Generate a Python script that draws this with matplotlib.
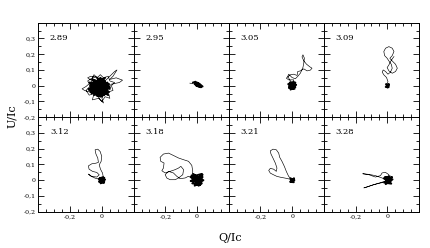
import matplotlib
matplotlib.use("Agg")
import matplotlib.pyplot as plt
from matplotlib.ticker import MultipleLocator

plt.rcParams['font.family'] = ['DejaVu Serif']

labels = ["2.89", "2.95", "3.05", "3.09", "3.12", "3.18", "3.21", "3.28"]

# excursion traces (Q/Ic, U/Ic)
q_289 = [-0.02, 0.03, 0.06, 0.08, 0.095, 0.07, 0.05, 0.09, 0.13, 0.11, 0.06, 0.02, 0.0, 0.01, -0.01,
         -0.04, -0.08, -0.11, -0.125, -0.10, -0.06, -0.09, -0.07, -0.03,
         -0.06, -0.09, -0.07, -0.10, -0.08, -0.05, -0.06, -0.02, 0.0, 0.02, 0.05, 0.04, 0.07, 0.06,
         0.08, 0.05, 0.04, 0.01, -0.01, -0.03, -0.05, -0.06]
u_289 = [0.0, 0.04, 0.07, 0.09, 0.10, 0.06, 0.04, 0.05, 0.035, 0.02, 0.01, -0.03, -0.08, -0.11, -0.09,
         -0.05, -0.04, -0.03, -0.02, -0.005, 0.03, 0.05, 0.06, 0.055,
         0.05, 0.03, 0.0, -0.03, -0.06, -0.05, -0.09, -0.08, -0.10, -0.07, -0.08, -0.04, -0.03, 0.0,
         0.02, 0.03, 0.06, 0.05, 0.07, 0.05, 0.07, 0.05]
q_295 = [-0.045, -0.03, -0.02]
u_295 = [0.016, 0.014, 0.018]
q_305 = [0.003, 0.010, -0.022, -0.037, -0.012, 0.010, 0.031, 0.035, 0.052, 0.073, 0.094, 0.115, 0.125,
         0.111, 0.090, 0.073, 0.062, 0.068, 0.077, 0.073, 0.068, 0.052, 0.035, 0.020, -0.001, -0.022,
         -0.028, -0.012, 0.005]
u_305 = [0.006, 0.037, 0.037, 0.048, 0.069, 0.073, 0.065, 0.090, 0.094, 0.107, 0.094, 0.099, 0.111,
         0.120, 0.137, 0.158, 0.183, 0.196, 0.175, 0.143, 0.116, 0.080, 0.059, 0.044, 0.052, 0.073,
         0.059, 0.031, 0.010]
q_309 = [-0.001, 0.004, -0.005, -0.022, -0.032, -0.026, -0.011, 0.004, 0.020, 0.031, 0.025, 0.010,
         -0.001, -0.017, -0.022, -0.011, 0.010, 0.031, 0.042, 0.031, 0.016, 0.031, 0.052, 0.063, 0.052,
         0.031, 0.010, -0.001, 0.010, 0.020, 0.031, 0.042]
u_309 = [0.006, 0.027, 0.052, 0.069, 0.086, 0.100, 0.090, 0.073, 0.086, 0.111, 0.136, 0.157, 0.174,
         0.191, 0.217, 0.238, 0.248, 0.238, 0.217, 0.191, 0.174, 0.157, 0.136, 0.111, 0.090, 0.079,
         0.094, 0.115, 0.132, 0.153, 0.170, 0.185]
q_312 = [-0.005, -0.017, -0.043, -0.074, -0.085, -0.064, -0.032, -0.017, -0.032, -0.059, -0.081, -0.085,
         -0.064, -0.038, -0.022, -0.026, -0.038, -0.043, -0.026, -0.011, -0.001, -0.005, -0.017, -0.009,
         0.004, 0.010, -0.001]
u_312 = [-0.008, 0.007, 0.013, 0.028, 0.039, 0.024, 0.020, 0.034, 0.049, 0.056, 0.070, 0.091, 0.104,
         0.108, 0.113, 0.140, 0.167, 0.193, 0.197, 0.182, 0.151, 0.119, 0.098, 0.070, 0.045, 0.013, -0.008]
q_318 = [-0.033, -0.027, -0.033, -0.054, -0.085, -0.117, -0.149, -0.180, -0.212, -0.233, -0.229, -0.208,
         -0.212, -0.222, -0.201, -0.170, -0.138, -0.117, -0.102, -0.085, -0.090, -0.117, -0.138, -0.170,
         -0.191, -0.201, -0.180, -0.149, -0.128, -0.107, -0.075, -0.054, -0.033]
u_318 = [0.025, 0.056, 0.094, 0.120, 0.130, 0.141, 0.157, 0.172, 0.166, 0.145, 0.120, 0.109, 0.077,
         0.060, 0.046, 0.056, 0.067, 0.077, 0.088, 0.067, 0.035, 0.014, 0.003, 0.003, 0.014, 0.035,
         0.056, 0.046, 0.025, 0.010, 0.014, 0.025, 0.014]
q_321 = [0.003, -0.016, -0.043, -0.070, -0.096, -0.117, -0.138, -0.148, -0.138, -0.117, -0.100, -0.096,
         -0.106, -0.121, -0.134, -0.138, -0.121, -0.100, -0.085, -0.079, -0.064, -0.049, -0.037, -0.022,
         -0.001]
u_321 = [-0.001, 0.007, 0.013, 0.018, 0.024, 0.034, 0.045, 0.062, 0.075, 0.070, 0.056, 0.077, 0.108,
         0.140, 0.167, 0.186, 0.197, 0.193, 0.172, 0.146, 0.119, 0.087, 0.056, 0.024, 0.003]
q_328 = [0.003, -0.033, -0.075, -0.117, -0.155, -0.117, -0.075, -0.043, -0.033, -0.012, 0.010, -0.001,
         -0.043, -0.085, -0.127, -0.148, -0.106, -0.064, -0.022, 0.003]
u_328 = [-0.001, 0.014, 0.029, 0.037, 0.041, 0.035, 0.020, 0.029, 0.046, 0.050, 0.035, -0.007, -0.018,
         -0.028, -0.043, -0.049, -0.035, -0.022, -0.009, -0.001]

# dense cores near the origin
cq_289 = [-0.02, 0.03, -0.07, 0.02, -0.05, 0.04, -0.08, 0.0, 0.03, -0.06, 0.045, -0.03, -0.075, 0.01,
          -0.04, 0.05, -0.01, -0.065, 0.035, -0.085, 0.0, -0.04, 0.04, -0.055, 0.02, -0.07, 0.03, -0.02,
          0.045, -0.08, -0.01, 0.02, -0.06, 0.0, -0.03, 0.05, -0.07, 0.015, -0.045, -0.02]
cu_289 = [0.04, -0.05, -0.02, 0.03, -0.06, 0.01, 0.02, -0.07, -0.02, 0.04, -0.04, -0.065, 0.0, 0.045,
          -0.04, -0.01, 0.05, -0.05, 0.02, -0.02, -0.055, 0.03, -0.06, 0.0, 0.05, -0.04, -0.03, 0.03,
          0.01, -0.03, -0.07, 0.0, 0.04, -0.03, 0.05, -0.02, -0.01, -0.06, 0.035, -0.01]
cq_295 = [-0.025, -0.01, 0.01, -0.015, 0.02, 0.0, 0.025, -0.005, 0.015, 0.035, 0.01, -0.01, 0.02]
cu_295 = [0.02, 0.025, 0.0, 0.01, 0.005, 0.02, -0.01, 0.0, -0.005, -0.005, 0.015, 0.015, 0.0]
cq_305 = [0.0, 0.02, -0.02, 0.015, -0.025, 0.01, -0.01, 0.025, -0.015, 0.02, -0.02, 0.005, 0.02, -0.01, 0.0]
cu_305 = [0.0, 0.02, -0.015, -0.02, 0.01, 0.025, -0.025, 0.005, 0.02, -0.01, -0.005, -0.02, 0.01, 0.02, 0.0]
cq_309 = [0.0, 0.01, -0.01, 0.008, -0.008, 0.01, 0.0]
cu_309 = [0.0, 0.01, -0.008, -0.01, 0.01, 0.0, -0.01]
cq_312 = [0.0, 0.015, -0.018, 0.012, -0.02, 0.008, -0.008, 0.02, -0.012, 0.015, -0.015, 0.0]
cu_312 = [0.0, 0.015, -0.01, -0.018, 0.008, 0.02, -0.02, 0.004, 0.015, -0.01, -0.004, 0.0]
cq_318 = [0.0, 0.035, -0.03, 0.02, -0.04, 0.03, -0.015, 0.04, -0.035, 0.01, 0.03, -0.025, 0.02, -0.04,
          0.035, -0.01, 0.025, -0.03, 0.0]
cu_318 = [0.005, 0.035, -0.02, -0.03, 0.02, 0.04, -0.035, 0.0, 0.03, -0.035, -0.02, 0.04, 0.01, -0.005,
          0.02, -0.03, -0.01, 0.02, 0.005]
cq_321 = [0.0, 0.012, -0.013, 0.01, -0.012, 0.014, -0.005, 0.0]
cu_321 = [0.0, 0.012, -0.01, -0.013, 0.012, 0.0, -0.012, 0.0]
cq_328 = [0.005, 0.03, -0.02, 0.025, -0.022, 0.015, -0.01, 0.033, -0.015, 0.02, 0.0]
cu_328 = [0.0, 0.02, -0.015, -0.022, 0.012, 0.025, -0.025, 0.005, 0.02, -0.01, 0.0]

traces = [(q_289, u_289), (q_295, u_295), (q_305, u_305), (q_309, u_309),
          (q_312, u_312), (q_318, u_318), (q_321, u_321), (q_328, u_328)]
cores = [(cq_289, cu_289), (cq_295, cu_295), (cq_305, cu_305), (cq_309, cu_309),
         (cq_312, cu_312), (cq_318, cu_318), (cq_321, cu_321), (cq_328, cu_328)]

xticks = [-0.2, 0.0]
xticklabels = ["-0,2", "0"]
yticks = [-0.2, -0.1, 0.0, 0.1, 0.2, 0.3]
yticklabels = ["-0,2", "-0,1", "0", "0,1", "0,2", "0,3"]

fig, axes = plt.subplots(2, 4, figsize=(4.31, 2.48), dpi=100, sharex=True, sharey=True)
fig.subplots_adjust(left=0.0893, right=0.9722, top=0.9085, bottom=0.1464, wspace=0, hspace=0)

for i, ax in enumerate(axes.flat):
    q, u = traces[i]
    cq, cu = cores[i]
    ax.plot(q, u, color='k', lw=0.45)
    ax.plot(cq, cu, color='k', lw=1.4, solid_joinstyle='round')
    ax.text(0.12, 0.84, labels[i], transform=ax.transAxes, fontsize=6, va='center', ha='left')
    ax.set_xlim(-0.4, 0.2)
    ax.set_ylim(-0.2, 0.4)
    ax.set_xticks(xticks)
    ax.set_yticks(yticks)
    ax.xaxis.set_minor_locator(MultipleLocator(0.05))
    ax.yaxis.set_minor_locator(MultipleLocator(0.05))
    ax.tick_params(which='both', direction='in', top=True, right=True, width=0.6,
                   labelsize=4.5, pad=2)
    ax.tick_params(which='major', length=4)
    ax.tick_params(which='minor', length=2.2)
    for s in ax.spines.values():
        s.set_linewidth(0.7)

for ax in axes[1]:
    ax.set_xticklabels(xticklabels)
for ax in axes[:, 0]:
    ax.set_yticklabels(yticklabels)

fig.text(0.028, 0.53, "U/Ic", rotation=90, fontsize=8, ha='center', va='center')
fig.text(0.533, 0.04, "Q/Ic", fontsize=8, ha='center', va='center')

fig.savefig("out.png", dpi=100)
